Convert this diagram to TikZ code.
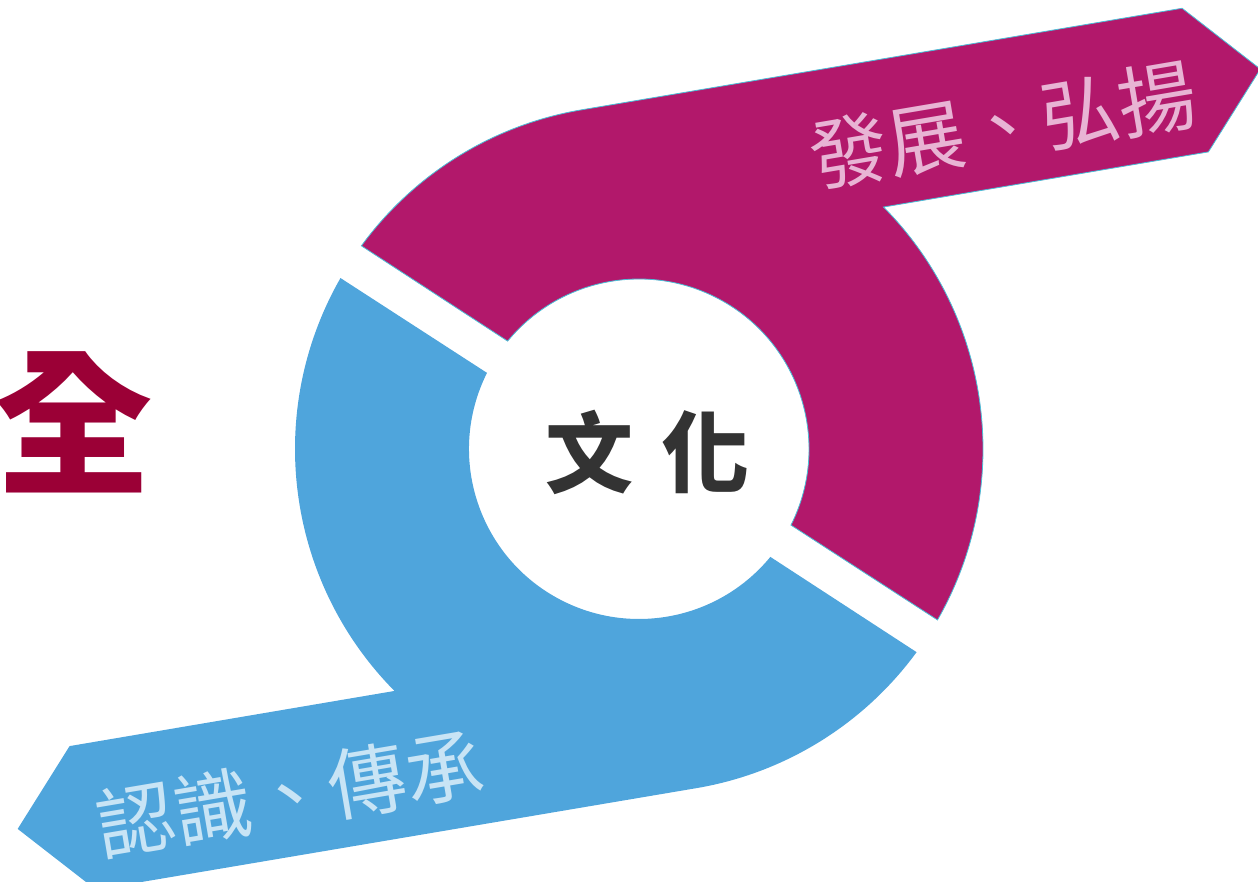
\documentclass[tikz,border=0pt]{standalone}
\usepackage{fontspec}
\newfontfamily\cjk{Noto Sans CJK TC}
\usetikzlibrary{calc}
\definecolor{magenta1}{RGB}{178,24,107}
\definecolor{blue1}{RGB}{79,165,220}
\definecolor{edgecyan}{RGB}{75,190,215}
\definecolor{pinktext}{RGB}{232,180,212}
\definecolor{bluetext}{RGB}{200,228,245}
\definecolor{darktext}{RGB}{51,51,51}
\definecolor{redtext}{RGB}{155,0,54}
\tikzset{
  bandlabel/.style={font=\cjk\fontsize{78}{78}\selectfont, inner sep=0pt, rotate=9.6},
  centerlabel/.style={font=\cjk\bfseries\fontsize{88}{88}\selectfont, text=darktext, inner sep=0pt},
}
\newcommand{\sshape}{%
  (143.8:344) arc[start angle=143.8, end angle=99.6, radius=344]
  -- ($(99.6:344)+(9.6:609)$)
  -- ($(99.6:344)+(9.6:676)+(-80.4:73)$)
  -- ($(99.6:344)+(9.6:611)+(-80.4:146)$)
  -- (44.7:344) arc[start angle=44.7, end angle=-29.8, radius=344]
  -- (-26.6:170) arc[start angle=-26.6, end angle=140.6, radius=170]
  -- cycle}
\begin{document}
\begin{tikzpicture}[x=1pt,y=1pt]
  \useasboundingbox (-639,-433) rectangle (619,449);
  \clip (-639,-433) rectangle (619,449);
  % magenta band
  \fill[magenta1, draw=edgecyan, line width=0.8pt] \sshape;
  % blue band (point symmetric)
  \begin{scope}[rotate=180]
    \fill[blue1] \sshape;
  \end{scope}
  % labels
  \node[bandlabel, text=pinktext] (top) at (364,324) {發展、弘揚};
  \node[bandlabel, text=bluetext] (bottom) at (-349,-345) {認識、傳承};
  \node[centerlabel] (wen) at (-49,-3) {文};
  \node[centerlabel] (hua) at (66,-3) {化};
  \node[font=\cjk\bfseries\fontsize{158}{158}\selectfont, text=redtext, inner sep=0pt] (quan) at (-565,27) {全};
\end{tikzpicture}
\end{document}
